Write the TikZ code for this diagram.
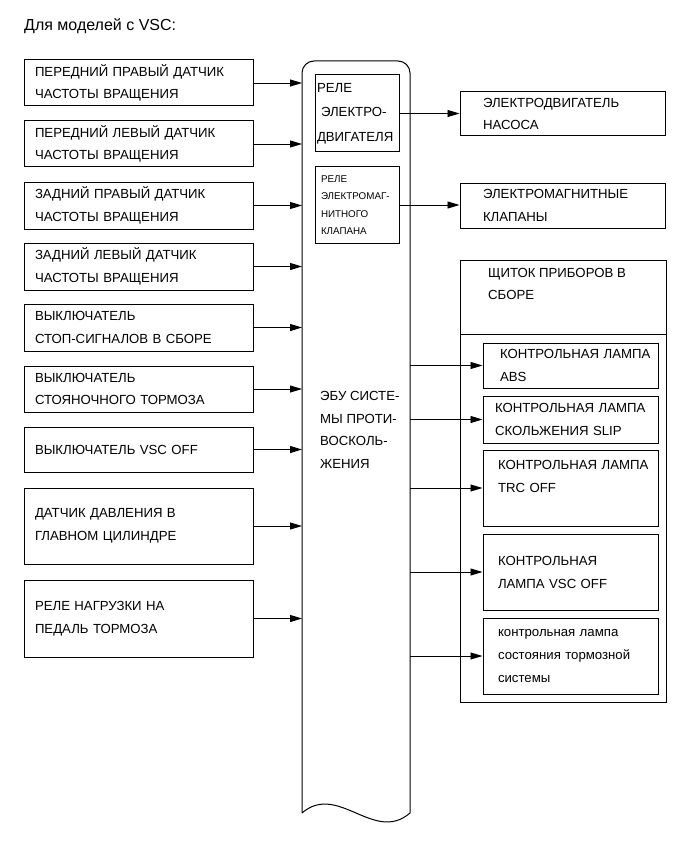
\documentclass[tikz,border=0pt]{standalone}
\usepackage{fontspec}
\setmainfont{Liberation Sans}
\usetikzlibrary{positioning, arrows.meta, calc}

\begin{document}
\begin{tikzpicture}[
		x=1pt, y=-1pt,
		inbox/.style={rectangle, draw, line width=1pt, inner xsep=11pt, inner ysep=0pt,
			text width=207pt, align=left, font=\fontsize{13.2}{22.5}\selectfont},
		relay/.style={rectangle, draw, line width=1pt, minimum width=84pt, inner xsep=2pt, inner ysep=0pt,
			text width=80pt, align=left},
		outbox/.style={rectangle, draw, line width=1pt, inner xsep=23pt, inner ysep=0pt,
			text width=159pt, align=left, font=\fontsize{13.2}{22.5}\selectfont},
		lamp/.style={rectangle, draw, line width=1pt, inner xsep=15pt, inner ysep=0pt,
			text width=145pt, align=left, font=\fontsize{13.2}{23}\selectfont},
		ecu/.style={line width=1pt},
		arrow/.style={-{Triangle[length=12pt, width=7pt]}, line width=0.9pt},
		label/.style={align=left, inner sep=0pt, font=\fontsize{13.2}{22.5}\selectfont}
	]
	
	\useasboundingbox (0,0) rectangle (689,853);
	
	% Заголовок
	\node[label, anchor=base west, font=\fontsize{16}{19}\selectfont] (title) at (24,31) {Для моделей с VSC:};
	
	% Входные сигналы
	\node[inbox, minimum height=46pt] (in1) at (138.5,83) {ПЕРЕДНИЙ ПРАВЫЙ ДАТЧИК\\ЧАСТОТЫ ВРАЩЕНИЯ};
	\node[inbox, minimum height=46pt] (in2) at (138.5,144) {ПЕРЕДНИЙ ЛЕВЫЙ ДАТЧИК\\ЧАСТОТЫ ВРАЩЕНИЯ};
	\node[inbox, minimum height=47pt] (in3) at (138.5,205.5) {ЗАДНИЙ ПРАВЫЙ ДАТЧИК\\ЧАСТОТЫ ВРАЩЕНИЯ};
	\node[inbox, minimum height=47pt] (in4) at (138.5,266.5) {ЗАДНИЙ ЛЕВЫЙ ДАТЧИК\\ЧАСТОТЫ ВРАЩЕНИЯ};
	\node[inbox, minimum height=47pt] (in5) at (138.5,327.5) {ВЫКЛЮЧАТЕЛЬ\\СТОП-СИГНАЛОВ В СБОРЕ};
	\node[inbox, minimum height=46pt] (in6) at (138.5,389) {ВЫКЛЮЧАТЕЛЬ\\СТОЯНОЧНОГО ТОРМОЗА};
	\node[inbox, minimum height=45pt] (in7) at (138.5,449.5) {ВЫКЛЮЧАТЕЛЬ VSC OFF\\[-10pt]};
	\node[inbox, minimum height=76pt] (in8) at (138.5,526) {ДАТЧИК ДАВЛЕНИЯ В\\ГЛАВНОМ ЦИЛИНДРЕ};
	\node[inbox, minimum height=77pt] (in9) at (138.5,618.5) {РЕЛЕ НАГРУЗКИ НА\\ПЕДАЛЬ ТОРМОЗА};
	
	% Блок ЭБУ с волнистым низом
	\draw[ecu] (302,813) [rounded corners=12pt] -- (302,61) -- (410,61) [sharp corners] -- (410,813)
		.. controls (374,844) and (338,782) .. (302,813);
	\coordinate (ecuL) at (302,0);
	\coordinate (ecuR) at (410,0);
	\node[label, anchor=west] (ecutext) at (320,430) {ЭБУ СИСТЕ-\\МЫ ПРОТИ-\\ВОСКОЛЬ-\\ЖЕНИЯ};
	
	% Реле внутри ЭБУ
	\node[relay, minimum height=77pt, font=\fontsize{13.2}{24.5}\selectfont] (rel1) at (357,113.5)
		{РЕЛЕ\\\hspace*{4pt}ЭЛЕКТРО-\\ДВИГАТЕЛЯ};
	\node[relay, minimum height=76pt, font=\fontsize{9.8}{17.5}\selectfont] (rel2) at (357,205)
		{\hspace*{4pt}РЕЛЕ\\\hspace*{4pt}ЭЛЕКТРОМАГ-\\\hspace*{4pt}НИТНОГО\\\hspace*{4pt}КЛАПАНА};
	
	% Исполнительные устройства
	\node[outbox, minimum height=44pt] (out1) at (562.5,114) {ЭЛЕКТРОДВИГАТЕЛЬ\\НАСОСА};
	\node[outbox, minimum height=45pt] (out2) at (562.5,205.5) {ЭЛЕКТРОМАГНИТНЫЕ\\КЛАПАНЫ};
	
	% Щиток приборов
	\node[rectangle, draw, line width=1pt, minimum width=206pt, minimum height=442pt] (panel) at (563,481) {};
	\draw[line width=1pt] (panel.west |- 0,334) -- (panel.east |- 0,334);
	\node[label, anchor=west] (paneltext) at (488,284) {ЩИТОК ПРИБОРОВ В\\СБОРЕ};
	
	\node[lamp, minimum height=45pt] (lamp1) at (570.5,365.5) {\hspace*{2pt}КОНТРОЛЬНАЯ~ЛАМПА\\\hspace*{2pt}ABS};
	\node[lamp, minimum height=47pt] (lamp2) at (570.5,419.5) {\hspace*{-3pt}КОНТРОЛЬНАЯ~ЛАМПА\\\hspace*{-3pt}СКОЛЬЖЕНИЯ~SLIP};
	\node[lamp, minimum height=76pt] (lamp3) at (570.5,488) {КОНТРОЛЬНАЯ~ЛАМПА\\TRC~OFF\\~};
	\node[lamp, minimum height=76pt] (lamp4) at (570.5,572) {КОНТРОЛЬНАЯ\\ЛАМПА~VSC~OFF};
	\node[lamp, minimum height=76pt] (lamp5) at (570.5,656) {контрольная~лампа\\состояния~тормозной\\системы};
	
	% Стрелки
	\foreach \n in {1,...,9}
		\draw[arrow] (in\n.east) -- (in\n.east -| ecuL);
	\draw[arrow] (rel1.east) -- (rel1.east -| out1.west);
	\draw[arrow] (rel2.east) -- (rel2.east -| out2.west);
	\foreach \n in {1,...,5}
		\draw[arrow] (ecuR |- lamp\n.west) -- (lamp\n.west);
	
\end{tikzpicture}
\end{document}
